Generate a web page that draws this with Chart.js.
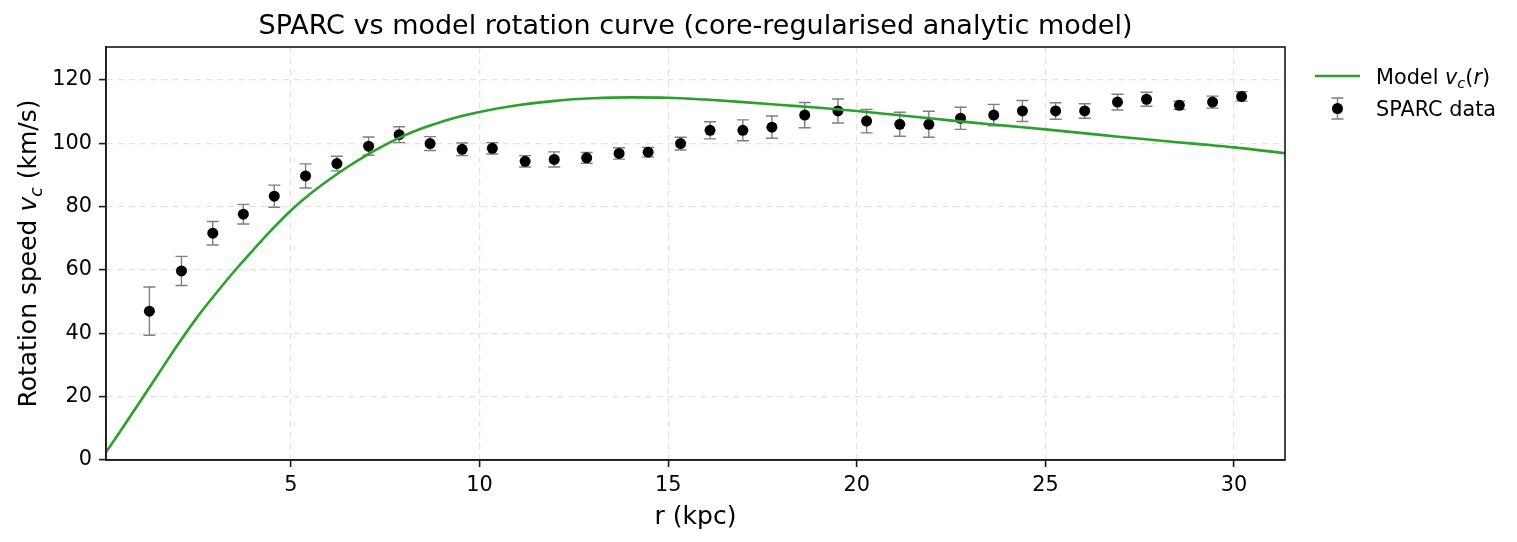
<!DOCTYPE html>
<html>
<head>
<meta charset="utf-8">
<script src="https://cdn.jsdelivr.net/npm/chart.js@4.4.1/dist/chart.umd.min.js"></script>
<style>
  html, body { margin: 0; padding: 0; background: #ffffff; }
  #wrap { width: 1517px; height: 542px; position: relative; }
</style>
</head>
<body>
<div id="wrap"><canvas id="c" width="1517" height="542"></canvas></div>
<script>
// ---- data ----
const titleText = "SPARC vs model rotation curve (core-regularised analytic model)";
const xTitle = "r (kpc)";
const xTicks = [5, 10, 15, 20, 25, 30];
const yTicks = [0, 20, 40, 60, 80, 100, 120];

const sparcR = [1.25, 2.10, 2.93, 3.74, 4.56, 5.39, 6.22, 7.06, 7.87, 8.69, 9.54, 10.34,
                11.21, 11.98, 12.84, 13.70, 14.47, 15.33, 16.11, 16.98, 17.75, 18.62, 19.50, 20.26,
                21.14, 21.91, 22.75, 23.63, 24.39, 25.27, 26.04, 26.91, 27.68, 28.55, 29.43, 30.20];
const sparcV = [47.0, 59.7, 71.6, 77.6, 83.3, 89.7, 93.6, 99.1, 102.7, 99.9, 98.1, 98.4,
                94.3, 94.9, 95.4, 96.8, 97.2, 99.9, 104.1, 104.1, 105.1, 108.9, 110.2, 107.0,
                106.0, 106.0, 107.9, 108.9, 110.2, 110.2, 110.2, 113.0, 113.9, 112.0, 113.0, 114.8];
const sparcErr = [7.6, 4.6, 3.7, 3.1, 3.5, 3.8, 2.3, 2.9, 2.5, 2.2, 2.0, 1.8,
                  1.8, 2.4, 1.7, 1.8, 1.5, 2.0, 2.7, 3.3, 3.5, 4.0, 3.8, 3.7,
                  3.8, 4.1, 3.5, 3.4, 3.3, 2.6, 2.3, 2.5, 2.2, 1.3, 1.9, 1.5];

const modelR = [0.1, 0.5, 1, 1.5, 2, 2.5, 3, 3.5, 4, 4.5, 5, 5.5, 6, 6.5, 7, 7.5, 8, 8.5, 9, 9.5,
                10, 11, 12, 13, 14, 15, 16, 17, 18, 19, 20, 21, 22, 23, 24, 25, 26, 27, 28, 29, 30, 31.4];
const modelV = [2.4, 9.5, 18.4, 27.4, 36.4, 44.8, 52.4, 59.6, 66.3, 72.8, 78.8, 83.9, 88.4, 92.5, 96.2, 99.5, 102.4, 104.8, 106.8, 108.5,
                109.9, 112.0, 113.4, 114.2, 114.5, 114.4, 113.8, 113.0, 112.1, 111.2, 110.2, 109.0, 107.8, 106.6, 105.5, 104.4, 103.2, 102.0, 100.9, 99.8, 98.7, 96.8];

// ---- styling ----
const FONT = "'DejaVu Sans', 'Liberation Sans', sans-serif";
const GREEN = '#2ca02c';
const ERRCOL = '#7f7f7f';
const AXCOL = '#1a1a1a';

function richWidth(ctx, parts, size) {
  let w = 0;
  for (const p of parts) {
    const s = p.sub ? size * 0.7 : size;
    ctx.font = (p.italic ? 'oblique ' : '') + s + 'px ' + FONT;
    w += ctx.measureText(p.t).width;
  }
  return w;
}
function drawRich(ctx, parts, x, y, size) {
  let cx = x;
  for (const p of parts) {
    const s = p.sub ? size * 0.7 : size;
    ctx.font = (p.italic ? 'oblique ' : '') + s + 'px ' + FONT;
    ctx.fillText(p.t, cx, p.sub ? y + size * 0.22 : y);
    cx += ctx.measureText(p.t).width;
  }
}

const deco = {
  id: 'deco',
  beforeDatasetDraw(chart, args) {
    if (args.index !== 1) return;
    const ctx = chart.ctx, xs = chart.scales.x, ys = chart.scales.y;
    ctx.save();
    ctx.setLineDash([]);
    ctx.strokeStyle = ERRCOL;
    ctx.lineWidth = 1.4;
    for (let i = 0; i < sparcR.length; i++) {
      const px = xs.getPixelForValue(sparcR[i]);
      const y1 = ys.getPixelForValue(sparcV[i] + sparcErr[i]);
      const y2 = ys.getPixelForValue(sparcV[i] - sparcErr[i]);
      ctx.beginPath();
      ctx.moveTo(px, y1); ctx.lineTo(px, y2);
      ctx.moveTo(px - 6, y1); ctx.lineTo(px + 6, y1);
      ctx.moveTo(px - 6, y2); ctx.lineTo(px + 6, y2);
      ctx.stroke();
    }
    ctx.restore();
  },
  afterDraw(chart) {
    const ctx = chart.ctx, a = chart.chartArea;
    ctx.save();
    ctx.setLineDash([]);
    ctx.strokeStyle = AXCOL;
    ctx.lineWidth = 1.6;
    ctx.strokeRect(a.left, a.top, a.right - a.left, a.bottom - a.top);
    // title
    ctx.fillStyle = '#000';
    ctx.font = '27px ' + FONT;
    ctx.textAlign = 'center';
    ctx.textBaseline = 'alphabetic';
    ctx.fillText(titleText, (a.left + a.right) / 2, 34);
    // y label
    ctx.textAlign = 'left';
    const yParts = [{t: 'Rotation speed '}, {t: 'v', italic: true}, {t: 'c', italic: true, sub: true}, {t: ' (km/s)'}];
    const yw = richWidth(ctx, yParts, 25);
    ctx.save();
    ctx.translate(36, (a.top + a.bottom) / 2);
    ctx.rotate(-Math.PI / 2);
    drawRich(ctx, yParts, -yw / 2, 0, 25);
    ctx.restore();
    // legend
    const lx0 = 1315, lx1 = 1360, tx = 1376;
    const r1 = 76, r2 = 108.5;
    ctx.strokeStyle = GREEN;
    ctx.lineWidth = 2.6;
    ctx.beginPath(); ctx.moveTo(lx0, r1); ctx.lineTo(lx1, r1); ctx.stroke();
    ctx.fillStyle = '#000';
    drawRich(ctx, [{t: 'Model '}, {t: 'v', italic: true}, {t: 'c', italic: true, sub: true}, {t: '('}, {t: 'r', italic: true}, {t: ')'}], tx, r1 + 7.5, 20.8);
    const mx = (lx0 + lx1) / 2;
    ctx.strokeStyle = ERRCOL;
    ctx.lineWidth = 1.4;
    ctx.beginPath();
    ctx.moveTo(mx, r2 - 10.5); ctx.lineTo(mx, r2 + 10.5);
    ctx.moveTo(mx - 6, r2 - 10.5); ctx.lineTo(mx + 6, r2 - 10.5);
    ctx.moveTo(mx - 6, r2 + 10.5); ctx.lineTo(mx + 6, r2 + 10.5);
    ctx.stroke();
    ctx.fillStyle = '#000';
    ctx.beginPath(); ctx.arc(mx, r2, 5.5, 0, Math.PI * 2); ctx.fill();
    ctx.font = '20.8px ' + FONT;
    ctx.fillText('SPARC data', tx, r2 + 7.5);
    ctx.restore();
  }
};

const gridOpts = {
  color: '#e2e2e2',
  lineWidth: 1.2,
  drawTicks: true,
  tickLength: 7,
  tickColor: AXCOL,
  tickWidth: 1.6,
  tickBorderDash: []
};
const borderOpts = { display: true, color: AXCOL, width: 1.6, dash: [6, 5] };

new Chart(document.getElementById('c'), {
  type: 'scatter',
  data: {
    datasets: [
      {
        label: 'Model',
        data: modelR.map((r, i) => ({x: r, y: modelV[i]})),
        showLine: true,
        borderColor: GREEN,
        borderWidth: 2.6,
        pointRadius: 0,
        cubicInterpolationMode: 'monotone',
        fill: false
      },
      {
        label: 'SPARC data',
        data: sparcR.map((r, i) => ({x: r, y: sparcV[i]})),
        pointRadius: 5.5,
        pointBackgroundColor: '#000',
        pointBorderWidth: 0,
        showLine: false
      }
    ]
  },
  options: {
    responsive: false,
    animation: false,
    events: [],
    layout: { padding: { left: 0, right: 232, top: 47, bottom: 0 } },
    plugins: { legend: { display: false }, title: { display: false }, tooltip: { enabled: false } },
    scales: {
      x: {
        type: 'linear',
        min: 0.1,
        max: 31.35,
        afterBuildTicks: s => { s.ticks = xTicks.map(v => ({value: v})); },
        afterFit: s => { s.height = 82; },
        grid: gridOpts,
        border: borderOpts,
        ticks: { color: '#000', font: { family: FONT, size: 20.8 }, padding: 6, maxRotation: 0 },
        title: { display: true, text: xTitle, color: '#000', font: { family: FONT, size: 25 }, padding: { top: 0, bottom: 10 } }
      },
      y: {
        type: 'linear',
        min: 0,
        max: 130.4,
        afterBuildTicks: s => { s.ticks = yTicks.map(v => ({value: v})); },
        afterFit: s => { s.width = 106; },
        grid: gridOpts,
        border: borderOpts,
        ticks: { color: '#000', font: { family: FONT, size: 20.8 }, padding: 7 }
      }
    }
  },
  plugins: [deco]
});
</script>
</body>
</html>
